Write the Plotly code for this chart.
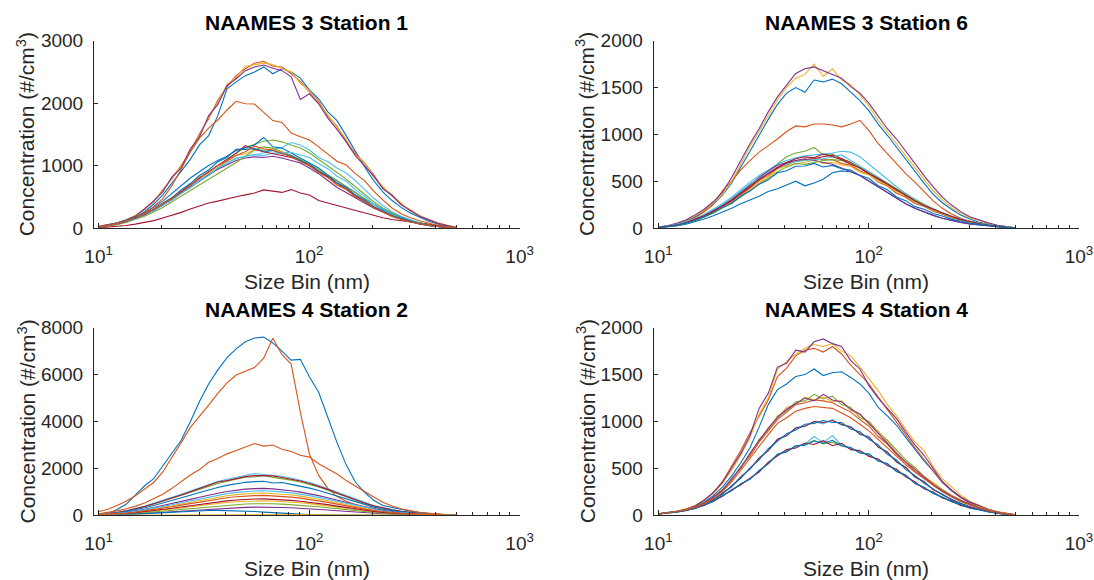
import plotly.graph_objects as go

# Size bin centres (nm), shared by every station
SIZE_BINS_NM = [10.0, 11.06, 12.22, 13.51, 14.94, 16.51, 18.25, 20.18, 22.31, 24.66,
                27.27, 30.14, 33.32, 36.84, 40.72, 45.02, 49.77, 55.02, 60.82, 67.24,
                74.34, 82.18, 90.85, 100.4, 111.0, 122.7, 135.7, 150.0, 165.8, 183.3,
                202.7, 224.0, 247.7, 273.8, 302.7, 334.6, 369.9, 409.0, 452.1, 499.8]

MATLAB_COLORS = ["#0072BD", "#D95319", "#EDB120", "#7E2F8E", "#77AC30", "#4DBEEE", "#A2142F"]

STATION_TITLES = ["NAAMES 3 Station 1", "NAAMES 3 Station 6",
                  "NAAMES 4 Station 2", "NAAMES 4 Station 4"]
Y_MAX = [3000, 2000, 8000, 2000]
Y_STEP = [1000, 500, 2000, 500]
X_TICK_VALUES = [10, 100, 1000]
X_TICK_TEXT = ["10<sup>1</sup>", "10<sup>2</sup>", "10<sup>3</sup>"]
X_MINOR_VALUES = [20, 30, 40, 50, 60, 70, 80, 90, 200, 300, 400, 500, 600, 700, 800, 900]

# Concentration (#/cm^3) per size bin, one list per sample
N3_STATION1 = [
    [20, 40, 65, 110, 170, 260, 380, 530, 720, 900, 1100, 1330, 1480, 1800, 2230, 2340, 2440, 2500, 2580, 2470,
     2550, 2500, 2400, 2210, 2070, 1860, 1720, 1480, 1220, 980, 760, 580, 440, 330, 240, 170, 110, 65, 30, 8],
    [27, 50, 78, 132, 195, 310, 420, 610, 790, 1000, 1220, 1510, 1750, 2050, 2260, 2440, 2550, 2640, 2670, 2590,
     2580, 2470, 2350, 2180, 2030, 1790, 1630, 1390, 1200, 1040, 850, 640, 530, 380, 290, 195, 135, 78, 42, 12],
    [30, 45, 85, 125, 205, 300, 440, 590, 810, 980, 1250, 1480, 1780, 2010, 2300, 2410, 2590, 2610, 2640, 2620,
     2550, 2500, 2320, 2200, 2000, 1820, 1600, 1420, 1170, 1050, 820, 670, 510, 400, 270, 205, 125, 85, 38, 10],
    [25, 52, 82, 128, 190, 300, 430, 580, 820, 960, 1270, 1460, 1800, 1980, 2280, 2390, 2520, 2580, 2610, 2560,
     2520, 2420, 2060, 2150, 1990, 1760, 1580, 1380, 1160, 1000, 830, 630, 520, 370, 280, 190, 130, 75, 40, 8],
    [8, 30, 60, 100, 150, 210, 280, 360, 450, 560, 660, 770, 860, 960, 1080, 1200, 1290, 1340, 1390, 1410,
     1380, 1330, 1280, 1200, 1100, 1000, 890, 780, 660, 540, 420, 320, 240, 170, 120, 80, 50, 28, 12, 3],
    [10, 32, 65, 105, 155, 215, 290, 370, 470, 560, 660, 760, 860, 950, 1040, 1110, 1150, 1180, 1200, 1260,
     1290, 1370, 1330, 1250, 1130, 1060, 960, 880, 760, 620, 480, 360, 260, 190, 130, 85, 55, 30, 14, 4],
    [3, 12, 25, 40, 62, 88, 118, 160, 200, 250, 305, 350, 400, 430, 470, 500, 530, 560, 610, 585,
     570, 615, 560, 530, 440, 400, 360, 320, 280, 240, 200, 165, 135, 115, 92, 72, 55, 38, 22, 5],
    [12, 38, 75, 120, 175, 245, 330, 430, 550, 680, 800, 900, 1000, 1080, 1150, 1240, 1290, 1330, 1450, 1300,
     1280, 1200, 1130, 1050, 960, 850, 760, 670, 570, 470, 380, 300, 225, 165, 115, 75, 45, 25, 10, 2],
    [18, 35, 60, 100, 160, 240, 340, 470, 680, 940, 1220, 1440, 1600, 1730, 1890, 2030, 1990, 1985, 1860, 1720,
     1690, 1520, 1460, 1410, 1300, 1190, 1070, 1010, 870, 760, 590, 450, 320, 230, 165, 115, 72, 40, 18, 4],
    [10, 38, 70, 116, 160, 230, 300, 396, 484, 598, 692, 810, 892, 1000, 1070, 1162, 1190, 1252, 1248, 1262,
     1205, 1162, 1080, 1012, 890, 812, 690, 620, 500, 428, 322, 266, 190, 150, 96, 70, 40, 25, 10, 3],
    [8, 30, 62, 100, 150, 210, 285, 365, 460, 560, 660, 760, 850, 940, 1010, 1080, 1120, 1140, 1130, 1150,
     1120, 1080, 1040, 960, 870, 760, 650, 570, 480, 400, 320, 250, 190, 140, 100, 65, 40, 22, 10, 2],
    [6, 25, 52, 88, 135, 190, 255, 330, 420, 510, 600, 690, 780, 870, 950, 1050, 1150, 1250, 1300, 1280,
     1220, 1160, 1100, 1020, 940, 850, 760, 660, 560, 460, 370, 290, 220, 160, 110, 72, 45, 25, 11, 3],
    [9, 33, 60, 104, 146, 215, 276, 366, 450, 558, 644, 760, 842, 960, 1032, 1120, 1142, 1172, 1160, 1200,
     1200, 1212, 1170, 1130, 1030, 950, 830, 750, 610, 510, 380, 302, 210, 160, 100, 73, 41, 25, 10, 2],
    [10, 34, 68, 108, 158, 220, 300, 385, 480, 580, 690, 800, 900, 1000, 1100, 1200, 1320, 1260, 1220, 1190,
     1160, 1130, 1080, 1000, 910, 820, 720, 620, 520, 425, 335, 260, 195, 145, 100, 66, 40, 22, 10, 2],
    [11, 39, 68, 114, 158, 230, 300, 398, 484, 608, 712, 840, 930, 1062, 1130, 1262, 1260, 1272, 1230, 1240,
     1190, 1160, 1080, 1020, 910, 840, 720, 648, 530, 448, 342, 276, 195, 154, 102, 72, 42, 25, 11, 3],
    [10, 36, 66, 112, 156, 228, 296, 388, 474, 590, 684, 810, 892, 1000, 1072, 1162, 1222, 1310, 1270, 1250,
     1190, 1140, 1060, 1000, 890, 810, 690, 620, 500, 428, 322, 262, 186, 144, 95, 67, 39, 23, 10, 2],
]

N3_STATION6 = [
    [7, 20, 42, 75, 120, 180, 255, 350, 480, 650, 830, 990, 1160, 1320, 1440, 1500, 1450, 1580, 1560, 1590,
     1540, 1450, 1360, 1250, 1110, 990, 860, 730, 600, 480, 360, 270, 200, 140, 95, 62, 40, 22, 10, 2],
    [8, 20, 40, 70, 110, 170, 250, 400, 500, 620, 720, 810, 880, 950, 1030, 1090, 1080, 1110, 1110, 1100,
     1080, 1110, 1150, 1040, 900, 790, 690, 580, 490, 390, 290, 210, 150, 105, 70, 45, 28, 15, 7, 2],
    [8, 22, 45, 80, 130, 190, 265, 360, 500, 680, 870, 1030, 1200, 1370, 1500, 1600, 1640, 1750, 1620, 1700,
     1580, 1530, 1420, 1300, 1150, 1030, 900, 770, 640, 520, 400, 300, 220, 160, 110, 75, 48, 26, 12, 3],
    [10, 25, 50, 85, 140, 200, 280, 380, 540, 720, 900, 1060, 1240, 1400, 1530, 1650, 1700, 1720, 1680, 1640,
     1600, 1510, 1440, 1330, 1200, 1060, 950, 820, 680, 560, 440, 330, 245, 175, 120, 85, 55, 30, 14, 3],
    [6, 18, 36, 60, 95, 140, 190, 245, 310, 390, 470, 540, 610, 690, 760, 800, 820, 860, 780, 790,
     740, 700, 650, 580, 520, 460, 400, 340, 280, 235, 190, 150, 115, 85, 62, 45, 30, 18, 9, 2],
    [7, 20, 40, 65, 100, 145, 200, 260, 330, 410, 490, 560, 620, 680, 720, 750, 770, 780, 790, 800,
     820, 810, 760, 680, 600, 520, 440, 370, 310, 255, 205, 160, 125, 95, 70, 50, 34, 20, 10, 2],
    [5, 15, 30, 52, 85, 125, 175, 230, 290, 360, 440, 520, 590, 650, 690, 720, 730, 740, 760, 780,
     740, 700, 640, 580, 520, 460, 400, 340, 285, 235, 195, 155, 120, 90, 66, 48, 32, 19, 9, 2],
    [3, 10, 22, 40, 65, 95, 130, 170, 210, 260, 300, 340, 390, 420, 460, 500, 450, 480, 520, 590,
     610, 600, 560, 500, 440, 380, 320, 260, 210, 170, 135, 105, 80, 60, 44, 32, 22, 13, 6, 1],
    [5, 16, 28, 56, 85, 132, 174, 234, 280, 358, 424, 508, 562, 640, 672, 720, 722, 750, 728, 730,
     690, 670, 612, 570, 492, 448, 372, 328, 262, 232, 178, 150, 108, 88, 60, 46, 29, 19, 9, 2],
    [4, 14, 26, 53, 79, 124, 160, 222, 264, 348, 402, 488, 542, 630, 662, 712, 700, 730, 690, 700,
     672, 660, 592, 570, 500, 458, 388, 348, 278, 242, 188, 160, 116, 93, 63, 48, 30, 19, 9, 2],
    [5, 15, 32, 55, 90, 130, 180, 235, 300, 380, 460, 540, 610, 670, 700, 720, 740, 720, 700, 680,
     640, 600, 560, 500, 440, 380, 320, 260, 210, 170, 135, 105, 80, 60, 44, 32, 22, 13, 6, 1],
    [4, 12, 26, 48, 78, 115, 160, 210, 265, 330, 400, 470, 530, 600, 650, 690, 680, 700, 720, 730,
     720, 690, 650, 600, 540, 480, 420, 360, 300, 250, 205, 160, 125, 92, 68, 48, 32, 19, 9, 2],
    [6, 18, 38, 62, 96, 138, 190, 250, 320, 400, 470, 530, 590, 640, 680, 710, 720, 730, 740, 760,
     780, 720, 660, 600, 540, 470, 410, 350, 290, 240, 200, 160, 124, 94, 70, 50, 33, 20, 10, 2],
    [5, 16, 33, 57, 92, 132, 182, 235, 295, 370, 450, 520, 580, 640, 700, 740, 760, 750, 790, 760,
     730, 680, 640, 580, 530, 470, 410, 350, 290, 240, 200, 158, 122, 92, 67, 48, 32, 19, 9, 2],
    [4, 14, 27, 52, 78, 121, 162, 220, 265, 342, 394, 468, 514, 590, 612, 660, 662, 690, 652, 668,
     632, 618, 562, 528, 452, 408, 332, 292, 228, 200, 155, 128, 92, 74, 51, 39, 24, 16, 7, 1],
]

N4_STATION2 = [
    [10, 60, 250, 470, 860, 1250, 1560, 2100, 2650, 3200, 3990, 4850, 5600, 6200, 6720, 7100, 7400, 7560, 7600, 7350,
     7000, 6620, 6650, 5900, 5250, 4150, 3100, 2150, 1420, 980, 640, 420, 330, 240, 170, 120, 80, 50, 25, 8],
    [150, 260, 420, 600, 830, 1100, 1400, 1850, 2450, 3100, 3750, 4250, 4700, 5200, 5650, 5980, 6150, 6300, 6700, 7550,
     6850, 6450, 4400, 2600, 1700, 1150, 800, 600, 460, 370, 280, 210, 150, 105, 72, 48, 30, 18, 9, 2],
    [19, 38, 66, 104, 152, 209, 275, 342, 408, 484, 560, 636, 712, 779, 836, 883, 921, 940, 950, 931,
     902, 864, 817, 760, 693, 617, 532, 446, 370, 294, 228, 171, 128, 95, 66, 47, 33, 19, 9, 3],
    [23, 46, 80, 126, 184, 253, 333, 414, 494, 586, 678, 770, 862, 943, 1012, 1069, 1115, 1138, 1150, 1127,
     1092, 1046, 989, 920, 839, 747, 644, 540, 448, 356, 276, 207, 155, 115, 80, 57, 40, 23, 11, 3],
    [33, 66, 115, 181, 264, 363, 478, 594, 709, 841, 973, 1105, 1237, 1353, 1452, 1534, 1620, 1633, 1700, 1617,
     1567, 1501, 1419, 1320, 1204, 1072, 924, 775, 643, 511, 396, 297, 222, 165, 115, 82, 58, 33, 16, 5],
    [35, 70, 122, 193, 280, 385, 508, 630, 752, 893, 1032, 1172, 1312, 1435, 1540, 1628, 1720, 1780, 1740, 1710,
     1665, 1590, 1505, 1400, 1278, 1137, 980, 822, 682, 542, 420, 315, 236, 175, 122, 87, 61, 35, 17, 5],
    [34, 68, 119, 187, 272, 374, 493, 612, 731, 867, 1003, 1139, 1275, 1420, 1480, 1581, 1649, 1690, 1700, 1680,
     1615, 1547, 1462, 1360, 1241, 1105, 952, 799, 663, 527, 408, 306, 230, 170, 119, 85, 60, 34, 17, 5],
    [29, 58, 101, 159, 232, 319, 420, 522, 623, 739, 855, 971, 1087, 1189, 1276, 1348, 1406, 1435, 1450, 1380,
     1400, 1319, 1247, 1160, 1058, 942, 812, 681, 565, 449, 348, 261, 196, 145, 101, 72, 50, 29, 14, 4],
    [60, 120, 190, 280, 380, 520, 700, 900, 1150, 1420, 1720, 1950, 2260, 2420, 2620, 2760, 2900, 3060, 2950, 3000,
     2820, 2720, 2560, 2480, 2200, 1980, 1760, 1480, 1240, 1000, 780, 560, 400, 280, 190, 130, 80, 45, 20, 5],
    [12, 25, 43, 68, 99, 136, 180, 223, 267, 316, 366, 415, 465, 508, 546, 577, 601, 614, 620, 608,
     589, 564, 533, 496, 453, 403, 347, 291, 242, 192, 149, 112, 84, 62, 43, 31, 22, 12, 6, 2],
    [7, 14, 25, 39, 56, 77, 102, 126, 151, 179, 207, 235, 263, 287, 308, 326, 340, 347, 350, 343,
     333, 319, 301, 280, 256, 228, 196, 165, 137, 109, 84, 63, 47, 35, 25, 18, 12, 7, 4, 1],
    [10, 20, 35, 55, 80, 110, 145, 180, 215, 255, 295, 335, 375, 410, 440, 465, 485, 495, 500, 490,
     475, 455, 430, 400, 365, 325, 280, 235, 195, 155, 120, 90, 68, 50, 35, 25, 18, 10, 5, 1],
    [21, 42, 73, 115, 168, 231, 304, 378, 451, 535, 619, 703, 787, 861, 924, 976, 1018, 1039, 1050, 1029,
     997, 955, 903, 840, 766, 682, 588, 493, 409, 325, 252, 189, 142, 105, 73, 52, 37, 21, 10, 3],
    [14, 28, 49, 77, 112, 154, 203, 252, 301, 357, 413, 469, 525, 574, 616, 651, 679, 693, 700, 686,
     665, 637, 602, 560, 511, 455, 392, 329, 273, 217, 168, 126, 94, 70, 49, 35, 24, 14, 7, 2],
    [5, 12, 22, 35, 52, 72, 95, 118, 140, 162, 180, 195, 205, 210, 205, 195, 180, 160, 135, 110,
     85, 62, 42, 28, 18, 10, 5, 2, 1, 0, 0, 0, 0, 0, 0, 0, 0, 0, 0, 0],
    [17, 34, 59, 93, 136, 187, 246, 306, 365, 433, 501, 569, 637, 697, 748, 790, 824, 841, 850, 833,
     807, 773, 731, 680, 620, 552, 476, 399, 331, 263, 204, 153, 115, 85, 59, 42, 30, 17, 8, 2],
    [2, 4, 6, 10, 14, 18, 22, 26, 30, 34, 37, 40, 42, 43, 44, 44, 43, 42, 40, 38,
     35, 32, 29, 25, 21, 17, 14, 11, 8, 6, 4, 3, 2, 1, 1, 0, 0, 0, 0, 0],
]

N4_STATION4 = [
    [14, 24, 36, 58, 90, 140, 210, 300, 420, 560, 720, 940, 1180, 1340, 1400, 1480, 1500, 1560, 1490, 1520,
     1530, 1470, 1400, 1300, 1150, 1060, 960, 830, 700, 580, 470, 350, 260, 190, 135, 95, 60, 34, 17, 5],
    [16, 26, 40, 66, 100, 160, 245, 360, 520, 690, 880, 1060, 1230, 1480, 1570, 1700, 1760, 1780, 1740, 1800,
     1720, 1600, 1500, 1400, 1260, 1130, 1000, 860, 720, 600, 470, 350, 265, 190, 138, 96, 60, 35, 17, 4],
    [18, 28, 42, 68, 105, 165, 235, 340, 480, 640, 830, 1080, 1250, 1560, 1640, 1720, 1780, 1820, 1800, 1830,
     1750, 1700, 1580, 1450, 1330, 1180, 1060, 920, 780, 690, 520, 390, 300, 215, 150, 105, 68, 40, 20, 5],
    [15, 25, 40, 65, 100, 160, 240, 350, 500, 660, 850, 1140, 1300, 1580, 1620, 1760, 1740, 1850, 1880, 1830,
     1800, 1650, 1560, 1380, 1250, 1140, 1030, 890, 750, 640, 500, 360, 270, 195, 142, 100, 64, 36, 18, 6],
    [14, 29, 40, 64, 88, 134, 185, 275, 370, 520, 640, 810, 910, 1060, 1110, 1210, 1220, 1290, 1240, 1270,
     1180, 1150, 1040, 1000, 890, 800, 690, 590, 510, 415, 345, 275, 215, 162, 122, 86, 56, 33, 15, 4],
    [15, 27, 35, 58, 75, 120, 160, 238, 302, 410, 490, 612, 688, 805, 845, 935, 950, 1000, 975, 1020,
     960, 950, 860, 840, 725, 680, 565, 515, 405, 362, 272, 228, 162, 130, 86, 68, 40, 26, 11, 3],
    [14, 25, 37, 56, 78, 118, 162, 235, 305, 410, 495, 610, 690, 810, 850, 930, 950, 1000, 990, 1010,
     970, 940, 870, 830, 730, 670, 570, 510, 410, 355, 275, 222, 168, 126, 90, 64, 42, 24, 12, 3],
    [13, 26, 39, 54, 82, 112, 168, 226, 315, 395, 505, 590, 710, 790, 870, 910, 970, 980, 1010, 990,
     990, 920, 890, 810, 750, 650, 590, 490, 425, 345, 285, 218, 172, 124, 91, 66, 42, 25, 12, 3],
    [15, 28, 41, 63, 86, 132, 188, 272, 375, 515, 630, 780, 900, 1020, 1100, 1180, 1200, 1230, 1220, 1200,
     1150, 1100, 1020, 950, 840, 760, 650, 560, 470, 400, 320, 255, 198, 150, 112, 80, 52, 30, 14, 4],
    [16, 26, 43, 61, 94, 126, 192, 268, 385, 500, 655, 795, 925, 1045, 1150, 1180, 1260, 1230, 1260, 1210,
     1220, 1120, 1070, 970, 900, 780, 670, 560, 500, 410, 350, 270, 210, 160, 120, 85, 55, 32, 15, 4],
    [15, 27, 44, 60, 92, 128, 195, 265, 390, 505, 660, 790, 930, 1040, 1130, 1190, 1250, 1220, 1290, 1230,
     1210, 1130, 1080, 980, 870, 770, 660, 570, 490, 420, 330, 265, 205, 158, 118, 84, 54, 30, 14, 4],
    [15, 25, 34, 55, 74, 110, 148, 208, 268, 334, 388, 474, 552, 648, 682, 740, 752, 800, 760, 780,
     738, 718, 668, 650, 582, 548, 466, 428, 342, 296, 236, 194, 146, 112, 78, 59, 37, 22, 11, 3],
    [15, 24, 36, 53, 75, 109, 149, 207, 268, 332, 388, 472, 558, 642, 688, 732, 758, 840, 775, 850,
     745, 712, 678, 642, 588, 542, 478, 422, 348, 292, 238, 190, 150, 110, 80, 58, 38, 22, 11, 3],
    [13, 22, 38, 50, 79, 104, 152, 202, 274, 326, 396, 462, 566, 630, 700, 718, 770, 755, 795, 742,
     768, 700, 690, 628, 600, 530, 490, 410, 358, 282, 248, 185, 155, 106, 84, 55, 40, 20, 12, 3],
    [14, 28, 33, 56, 72, 112, 146, 212, 262, 338, 384, 478, 548, 652, 676, 742, 748, 792, 768, 800,
     742, 722, 664, 652, 578, 552, 468, 430, 338, 298, 232, 196, 144, 114, 76, 60, 36, 23, 10, 3],
    [14, 26, 40, 60, 85, 125, 180, 255, 355, 480, 610, 740, 860, 980, 1040, 1110, 1140, 1160, 1150, 1140,
     1090, 1040, 970, 900, 810, 720, 620, 540, 460, 390, 315, 250, 195, 148, 110, 78, 50, 29, 14, 4],
]

STATIONS = [N3_STATION1, N3_STATION6, N4_STATION2, N4_STATION4]

FONT = "Liberation Sans, Arial, Helvetica, sans-serif"
AXIS_GREY = "#262626"
W, H = 1094, 580

# axes boxes in pixels: (left, right, top, bottom)
BOXES = [(94.0, 519.6, 40.7, 228.0), (653.7, 1079.0, 40.7, 228.0),
         (94.0, 519.6, 327.7, 515.3), (653.7, 1079.0, 327.7, 515.3)]

fig = go.Figure()
layout = dict(
    width=W, height=H, margin=dict(l=0, r=0, t=0, b=0, autoexpand=False),
    paper_bgcolor="white", plot_bgcolor="white", showlegend=False,
    font=dict(family=FONT, color=AXIS_GREY, size=19),
)
annotations = []

for k, curves in enumerate(STATIONS):
    ax = "" if k == 0 else str(k + 1)
    for j, conc in enumerate(curves):
        fig.add_trace(go.Scatter(
            x=SIZE_BINS_NM, y=conc, mode="lines",
            line=dict(color=MATLAB_COLORS[j % len(MATLAB_COLORS)], width=1.1),
            xaxis="x" + ax, yaxis="y" + ax, hoverinfo="skip",
        ))

    left, right, top, bottom = BOXES[k]
    xdom = [left / W, right / W]
    ydom = [1 - bottom / H, 1 - top / H]
    layout["xaxis" + ax] = dict(
        type="log", range=[0.978, 3.0], domain=xdom, anchor="y" + ax, automargin=False,
        tickmode="array", tickvals=X_TICK_VALUES, ticktext=X_TICK_TEXT,
        ticks="inside", ticklen=5, tickwidth=1, tickcolor=AXIS_GREY,
        minor=dict(tickmode="array", tickvals=X_MINOR_VALUES, ticks="inside",
                   ticklen=3, tickwidth=1, tickcolor=AXIS_GREY, showgrid=False),
        showline=True, linecolor=AXIS_GREY, linewidth=1,
        showgrid=False, zeroline=False, ticklabelstandoff=11,
        tickfont=dict(size=19, color=AXIS_GREY, family=FONT),
    )
    layout["yaxis" + ax] = dict(
        range=[0, Y_MAX[k]], domain=ydom, anchor="x" + ax, automargin=False,
        tickmode="linear", tick0=0, dtick=Y_STEP[k],
        ticks="inside", ticklen=4, tickwidth=1, tickcolor=AXIS_GREY,
        showline=True, linecolor=AXIS_GREY, linewidth=1,
        showgrid=False, zeroline=False, ticklabelstandoff=6,
        tickfont=dict(size=19, color=AXIS_GREY, family=FONT),
    )

    cx = (left + right) / 2 / W
    cy = 1 - (top + bottom) / 2 / H
    title_y = 1 - (top - 18) / H
    xlabel_y = 1 - (bottom + 53) / H
    annotations.append(dict(text="<b>" + STATION_TITLES[k] + "</b>", x=cx, y=title_y,
                            xref="paper", yref="paper", xanchor="center", yanchor="middle",
                            showarrow=False, font=dict(size=21, color="black", family=FONT)))
    annotations.append(dict(text="Size Bin (nm)", x=cx, y=xlabel_y,
                            xref="paper", yref="paper", xanchor="center", yanchor="middle",
                            showarrow=False, font=dict(size=21, color=AXIS_GREY, family=FONT)))
    annotations.append(dict(text="Concentration (#/cm<sup>3</sup>)", x=(left - 68) / W, y=cy,
                            xref="paper", yref="paper", xanchor="center", yanchor="middle",
                            textangle=-90, showarrow=False,
                            font=dict(size=21, color=AXIS_GREY, family=FONT)))

layout["annotations"] = annotations
fig.update_layout(**layout)
fig.write_html("out.html")
